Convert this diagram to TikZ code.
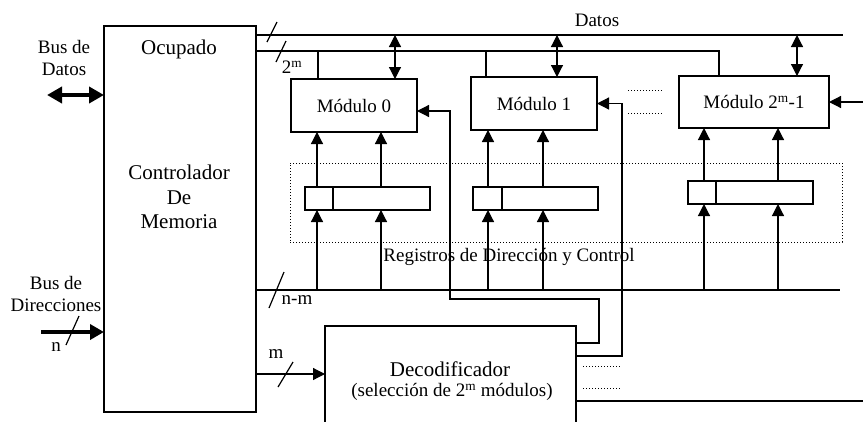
\documentclass[tikz,border=0pt]{standalone}
\usepackage{fontspec}
\setmainfont{Liberation Serif}
\usetikzlibrary{arrows.meta,positioning}

\tikzset{
  box/.style={draw, line width=1.6pt, inner sep=0pt, outer sep=0pt},
  modbox/.style={box, font=\fontsize{19}{22}\selectfont, minimum height=53pt},
  regbox/.style={box, minimum height=23pt},
  wire/.style={line width=1.2pt},
  sig/.style={wire, -{Triangle[length=12pt,width=12pt]}},
  bidir/.style={wire, {Triangle[length=12pt,width=12pt]}-{Triangle[length=12pt,width=12pt]}},
  bigbus/.style={line width=4.5pt},
  txt/.style={font=\fontsize{19}{22}\selectfont, inner sep=0pt},
  bigtxt/.style={font=\fontsize{21}{24.5}\selectfont, inner sep=0pt},
}

\begin{document}
\begin{tikzpicture}[x=1pt, y=-1pt]
  \clip (0,0) rectangle (863,421);

  % controlador de memoria
  \node[box, minimum width=152pt, minimum height=386pt] (ctrl) at (180,219) {};
  \node[bigtxt] (ocup) at (179,49) {Ocupado};
  \node[bigtxt, align=center] (ctrlname) at (179,197) {Controlador\\De\\Memoria};

  % buses de entrada
  \coordinate (datin) at (47,95);
  \coordinate (dirin) at (41,332);
  \node[txt, align=center] (datlbl) at (64,58) {Bus de\\Datos};
  \node[txt, align=center, font=\fontsize{19}{22.5}\selectfont] (dirlbl) at (56,294) {Bus de\\Direcciones};
  \draw[bigbus, {Triangle[length=15pt,width=16pt]}-{Triangle[length=15pt,width=16pt]}] (datin) -- (datin -| ctrl.west);
  \draw[bigbus, -{Triangle[length=14pt,width=15pt]}] (dirin) -- (dirin -| ctrl.west);
  \draw[wire] (66,345) -- (79,316);
  \node[txt] (nlbl) at (56,347) {n};

  % modulos
  \node[modbox, minimum width=126pt] (mod0) at (354,105.5) {Módulo 0};
  \node[modbox, minimum width=126pt] (mod1) at (534,103.5) {Módulo 1};
  \node[modbox, minimum width=150pt, minimum height=52pt] (mod2) at (754,102) {Módulo 2\textsuperscript{m}-1};

  % lineas superiores
  \coordinate (datend) at (843,35);
  \coordinate (selend) at (719,51);
  \node[txt] (datoslbl) at (597,20) {Datos};
  \draw[wire] (ctrl.east |- datend) -- (datend);
  \draw[wire] (ctrl.east |- selend) -- (selend) -- (selend |- mod2.north);
  \draw[wire] (267,42) -- (277,22);
  \draw[wire] (276,62) -- (286,41);
  \node[txt] (mlbl2) at (292,67) {2\textsuperscript{m}};
  \foreach \i/\xd in {0/395, 1/557, 2/797}
    \draw[bidir] (\xd,0 |- datend) -- (\xd,0 |- mod\i.north);
  \foreach \i/\xs in {0/318, 1/486}
    \draw[wire] (\xs,0 |- selend) -- (\xs,0 |- mod\i.north);

  \draw[dotted, line width=1pt] (628,90) -- (663,90);
  \draw[dotted, line width=1pt] (628,113) -- (663,113);

  % registros
  \node[draw, dotted, line width=1pt, minimum width=552pt, minimum height=79pt] (regs) at (566,202.5) {};
  \node[txt] (regslbl) at (509,257) {Registros de Dirección y Control};
  \node[regbox, minimum width=28pt] (ra0) at (319,198.5) {};
  \node[regbox, minimum width=97pt, right=0pt of ra0] (rb0) {};
  \node[regbox, minimum width=29pt] (ra1) at (487.5,198.5) {};
  \node[regbox, minimum width=96pt, right=0pt of ra1] (rb1) {};
  \node[regbox, minimum width=28pt] (ra2) at (702,192.5) {};
  \node[regbox, minimum width=97pt, right=0pt of ra2] (rb2) {};

  % linea n-m
  \coordinate (nmend) at (840,290);
  \draw[wire] (ctrl.east |- nmend) -- (nmend);
  \draw[wire] (269,308) -- (284,272);
  \node[txt] (nmlbl) at (297,300) {n-m};

  \foreach \i/\xa/\xb in {0/317/381, 1/488/543, 2/704/778} {
    \draw[sig] (\xa,0 |- ra\i.north) -- (\xa,0 |- mod\i.south);
    \draw[sig] (\xb,0 |- rb\i.north) -- (\xb,0 |- mod\i.south);
    \draw[sig] (\xa,0 |- nmend) -- (\xa,0 |- ra\i.south);
    \draw[sig] (\xb,0 |- nmend) -- (\xb,0 |- rb\i.south);
  }

  % decodificador
  \node[box, minimum width=251pt, minimum height=114pt] (dec) at (450.5,383) {};
  \node[bigtxt] (decname) at (450,369) {Decodificador};
  \node[txt] (decsub) at (452,392) {(selección de 2\textsuperscript{m} módulos)};
  \coordinate (min) at (300,374);
  \draw[sig] (ctrl.east |- min) -- (dec.west |- min);
  \draw[wire] (278,387) -- (293,362);
  \node[txt] (mlbl) at (276,354) {m};

  \draw[sig] ([yshift=40pt]dec.east) -| (599,299) -| ([xshift=33pt,yshift=-5.5pt]mod0.east) -- ([yshift=-5.5pt]mod0.east);
  \draw[sig] ([yshift=27pt]dec.east) -| ([xshift=25pt]mod1.east) -- (mod1.east);
  \draw[sig] ([xshift=34pt]mod2.east) -- (mod2.east);
  \draw[wire] ([yshift=-18pt]dec.east) -- ([yshift=-18pt]dec.east -| 863,0);
  \draw[dotted, line width=1pt] (583,366) -- (620,366);
  \draw[dotted, line width=1pt] (583,388) -- (620,388);
\end{tikzpicture}
\end{document}
